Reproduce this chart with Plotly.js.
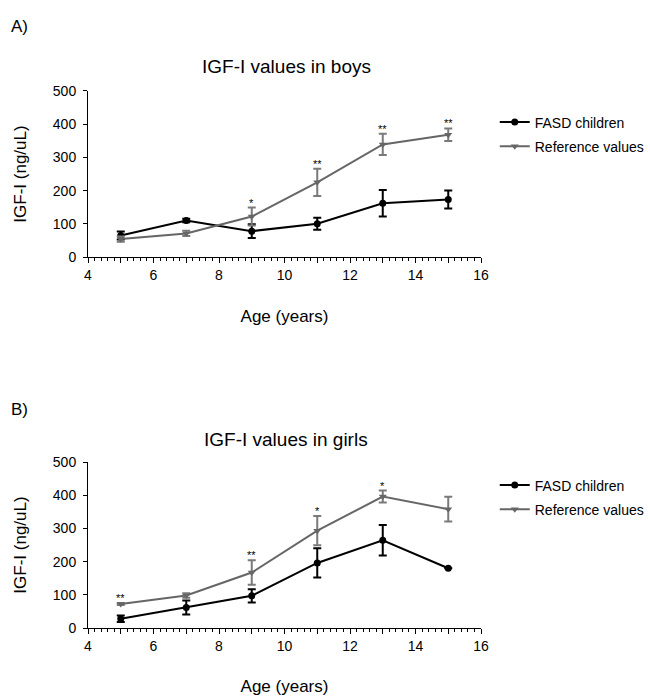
<!DOCTYPE html>
<html>
<head>
<meta charset="utf-8">
<script src="https://cdn.plot.ly/plotly-3.0.1.min.js"></script>
<style>html,body{margin:0;padding:0;background:#fff;}#chart{width:650px;height:696px;}</style>
</head>
<body>
<div id="chart"></div>
<script>
// ---- data ----
const ages = [5, 7, 9, 11, 13, 15];

const boysFasd = [65, 110, 78, 100, 162, 173];
const boysFasdErr = [12, 5, 21, 18, 40, 27];
const boysRef = [54, 71, 122, 225, 339, 368];
const boysRefErr = [8, 8, 27, 41, 32, 19];
const boysSig = ["", "", "*", "**", "**", "**"];

const girlsFasd = [28, 62, 97, 196, 264, 180];
const girlsFasdErr = [10, 21, 20, 44, 46, 0];
const girlsRef = [72, 98, 167, 293, 396, 358];
const girlsRefErr = [3, 7, 37, 44, 18, 37];
const girlsSig = ["**", "", "**", "*", "*", ""];

// odd integer ticks are drawn without a label
const xHiddenLabels = {"5": " ", "7": " ", "9": " ", "11": " ", "13": " ", "15": " "};

const seriesNames = ["FASD children", "Reference values"];
const panelTitles = ["IGF-I values in boys", "IGF-I values in girls"];
const panelLabels = ["A)", "B)"];
const xTitle = "Age (years)";
const yTitle = "IGF-I (ng/uL)";

// ---- styles ----
const FONT = "Liberation Sans, Arial, sans-serif";
const BLACK = "#000000";
const GREY = "#666666";
const GREY_ERR = "#7a7a7a";

function mkTraces(fasd, fasdErr, ref, refErr, xa, ya, leg) {
  return [
    {
      x: ages, y: fasd, name: seriesNames[0], type: "scatter", mode: "lines+markers",
      xaxis: xa, yaxis: ya, legend: leg, legendgroup: leg + "a",
      line: {color: BLACK, width: 2},
      marker: {symbol: "circle", size: 7, color: BLACK},
      error_y: {type: "data", array: fasdErr, visible: true, color: BLACK, thickness: 2, width: 4}
    },
    {
      x: ages, y: ref, name: seriesNames[1], type: "scatter", mode: "lines+markers",
      xaxis: xa, yaxis: ya, legend: leg, legendgroup: leg + "b",
      line: {color: GREY, width: 2},
      marker: {symbol: "triangle-down", size: 7, color: GREY},
      error_y: {type: "data", array: refErr, visible: true, color: GREY_ERR, thickness: 2, width: 4}
    }
  ];
}

const data = [].concat(
  mkTraces(boysFasd, boysFasdErr, boysRef, boysRefErr, "x", "y", "legend"),
  mkTraces(girlsFasd, girlsFasdErr, girlsRef, girlsRefErr, "x2", "y2", "legend2")
);

function sigAnn(sig, vals, errs, xr, yr) {
  const out = [];
  sig.forEach((s, i) => {
    if (!s) return;
    out.push({
      x: ages[i], y: vals[i] + errs[i], xref: xr, yref: yr, text: s, showarrow: false,
      yanchor: "bottom", yshift: -3, font: {family: FONT, size: 11, color: BLACK}
    });
  });
  return out;
}

const xAxisBase = {
  range: [4, 16], tickmode: "linear", tick0: 4, dtick: 1, labelalias: xHiddenLabels,
  ticks: "outside", ticklen: 5, tickwidth: 1, tickcolor: BLACK,
  showline: true, linecolor: BLACK, linewidth: 1, showgrid: false, zeroline: false,
  tickfont: {family: FONT, size: 14, color: BLACK},
  minor: {dtick: 0.2, ticks: "outside", ticklen: 3, tickwidth: 1, tickcolor: BLACK, showgrid: false},
  title: {text: xTitle, font: {family: FONT, size: 17, color: BLACK}, standoff: 28}
};
const yAxisBase = {
  range: [0, 500], dtick: 100, ticks: "outside", ticklen: 4, tickcolor: BLACK,
  showline: true, linecolor: BLACK, linewidth: 1, showgrid: false, zeroline: false,
  tickfont: {family: FONT, size: 14, color: BLACK}, ticklabelstandoff: 4,
  title: {text: yTitle, font: {family: FONT, size: 17, color: BLACK}, standoff: 21}
};

const legendBase = {
  font: {family: FONT, size: 14, color: BLACK}, bgcolor: "rgba(0,0,0,0)",
  traceorder: "grouped", tracegroupgap: 3, itemwidth: 30, xanchor: "left", yanchor: "top"
};

const layout = {
  width: 650, height: 696,
  margin: {l: 88, r: 169, t: 0, b: 0},
  paper_bgcolor: "#ffffff", plot_bgcolor: "#ffffff",
  font: {family: FONT, color: BLACK},
  xaxis: Object.assign({}, xAxisBase, {anchor: "y", domain: [0, 1]}),
  yaxis: Object.assign({}, yAxisBase, {anchor: "x", domain: [0.6307, 0.8693]}),
  xaxis2: Object.assign({}, xAxisBase, {anchor: "y2", domain: [0, 1]}),
  yaxis2: Object.assign({}, yAxisBase, {anchor: "x2", domain: [0.0977, 0.3362]}),
  legend: Object.assign({}, legendBase, {x: 1.035, y: 0.847}),
  legend2: Object.assign({}, legendBase, {x: 1.035, y: 0.3255}),
  showlegend: true,
  annotations: [].concat(
    [
      {text: panelLabels[0], xref: "paper", yref: "paper", x: -0.2, y: 0.962, xanchor: "left", yanchor: "middle", showarrow: false, font: {family: FONT, size: 17, color: BLACK}},
      {text: panelTitles[0], xref: "paper", yref: "paper", x: 0.505, y: 0.904, xanchor: "center", yanchor: "middle", showarrow: false, font: {family: FONT, size: 19, color: BLACK}},
      {text: panelLabels[1], xref: "paper", yref: "paper", x: -0.2, y: 0.411, xanchor: "left", yanchor: "middle", showarrow: false, font: {family: FONT, size: 17, color: BLACK}},
      {text: panelTitles[1], xref: "paper", yref: "paper", x: 0.505, y: 0.368, xanchor: "center", yanchor: "middle", showarrow: false, font: {family: FONT, size: 19, color: BLACK}}
    ],
    sigAnn(boysSig, boysRef, boysRefErr, "x", "y"),
    sigAnn(girlsSig, girlsRef, girlsRefErr, "x2", "y2")
  )
};

Plotly.newPlot("chart", data, layout, {displayModeBar: false, staticPlot: true});
</script>
</body>
</html>
